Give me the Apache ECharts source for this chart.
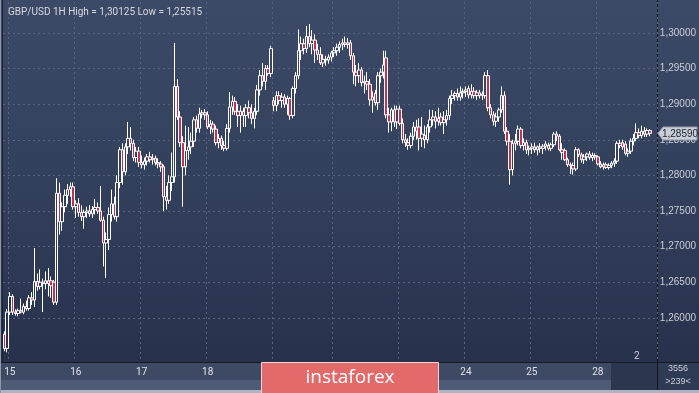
<!DOCTYPE html>
<html>
<head>
<meta charset="utf-8">
<script src="https://cdn.jsdelivr.net/npm/echarts@6/dist/echarts.min.js"></script>
<style>
  html, body { margin: 0; padding: 0; background: #28314c; }
  #wrap { position: relative; width: 699px; height: 393px; overflow: hidden; }
  .bg { position: absolute; }
  #chart { position: absolute; left: 0; top: 0; width: 699px; height: 393px; }
</style>
</head>
<body>
<div id="wrap">
  <div class="bg" style="left:0;top:0;width:699px;height:362px;background:linear-gradient(to bottom,#3d4a67 0%,#33405c 50%,#28314c 100%);"></div>
  <div class="bg" style="left:0;top:362px;width:699px;height:1px;background:#141925;"></div>
  <div class="bg" style="left:0;top:363px;width:699px;height:17px;background:#3e4a63;"></div>
  <div class="bg" style="left:0;top:380px;width:699px;height:10px;background:#4d5b76;"></div>
  <div class="bg" style="left:0;top:390px;width:699px;height:3px;background:#aab4c3;"></div>
  <div class="bg" style="left:611px;top:363px;width:46px;height:27px;background:#2c364e;"></div>
  <div class="bg" style="left:658px;top:363px;width:41px;height:27px;background:#2f3a54;"></div>
  <div class="bg" style="left:657px;top:0;width:1px;height:390px;background:#11161f;"></div>
  <div class="bg" style="left:0;top:0;width:1px;height:393px;background:#8e98aa;"></div>
  <div class="bg" style="left:2px;top:0;width:1px;height:362px;background:#1c2333;"></div>
  <div id="chart"></div>
</div>
<script>
// ---- data ----
const dayNames = ['12', '15', '16', '17', '18', '19', '22', '23', '24', '25', '28'];
const dayHours = [2, 24, 24, 24, 24, 22, 24, 24, 24, 24, 20];
const yTicks = [1.26, 1.265, 1.27, 1.275, 1.28, 1.285, 1.29, 1.295, 1.30];
const lastPrice = 1.28590;
const titleText = 'GBP/USD 1H High = 1,30125 Low = 1,25515';
// [open, close, low, high]
const candles = [
[1.2577,1.2557,1.2553,1.2581],[1.2557,1.2608,1.25515,1.2612],
[1.2608,1.2630,1.2604,1.2636],[1.2630,1.2608,1.2604,1.2633],[1.2608,1.2606,1.2603,1.2612],[1.2606,1.2610,1.2602,1.2613],
[1.2610,1.2608,1.2606,1.2627],[1.2608,1.2616,1.2605,1.2620],[1.2616,1.2613,1.2610,1.2624],[1.2613,1.2628,1.2610,1.2632],
[1.2628,1.2625,1.2618,1.2636],[1.2625,1.2651,1.2615,1.2698],[1.2651,1.2644,1.2638,1.2662],[1.2644,1.2650,1.2640,1.2668],
[1.2650,1.2648,1.2608,1.2655],[1.2648,1.2652,1.2640,1.2665],[1.2652,1.2648,1.2630,1.2670],[1.2652,1.2645,1.2628,1.2658],
[1.2650,1.2622,1.2618,1.2653],[1.2622,1.2775,1.2618,1.2796],[1.2775,1.2735,1.2717,1.2790],[1.2735,1.2756,1.2722,1.2762],
[1.2756,1.2772,1.2748,1.2780],[1.2772,1.2780,1.2760,1.2788],[1.2780,1.2784,1.2770,1.2790],[1.2784,1.2756,1.2752,1.2790],
[1.2756,1.2760,1.2740,1.2765],[1.2760,1.2748,1.2742,1.2768],[1.2748,1.2742,1.2736,1.2758],[1.2742,1.2748,1.2725,1.2752],
[1.2748,1.2750,1.2740,1.2756],[1.2750,1.2746,1.2742,1.2758],[1.2746,1.2752,1.2740,1.2757],[1.2752,1.2755,1.2745,1.2767],
[1.2755,1.2750,1.2746,1.2762],[1.2750,1.2737,1.2735,1.2785],[1.2737,1.2705,1.2672,1.2742],[1.2705,1.2710,1.2656,1.2720],
[1.2710,1.2745,1.2695,1.2755],[1.2745,1.2760,1.2735,1.2780],[1.2760,1.2742,1.2738,1.2770],[1.2742,1.2790,1.2735,1.2800],
[1.2790,1.2836,1.2782,1.2840],[1.2836,1.2805,1.2787,1.2845],[1.2805,1.2840,1.2800,1.2845],[1.2840,1.2852,1.2830,1.2875],
[1.2852,1.2845,1.2835,1.2868],[1.2845,1.2825,1.2820,1.2850],[1.2825,1.2834,1.2818,1.2840],[1.2834,1.2818,1.2812,1.2840],
[1.2818,1.2815,1.2810,1.2828],[1.2815,1.2820,1.2808,1.2825],[1.2820,1.2826,1.2814,1.2830],[1.2826,1.2822,1.2818,1.2833],
[1.2822,1.2824,1.2815,1.2830],[1.2824,1.2818,1.2814,1.2828],[1.2818,1.2816,1.2810,1.2824],[1.2816,1.2812,1.2805,1.2820],
[1.2812,1.2770,1.2750,1.2815],[1.2770,1.2765,1.2752,1.2785],[1.2765,1.2790,1.2760,1.2800],[1.2790,1.2798,1.2778,1.2832],
[1.2798,1.2925,1.2790,1.2986],[1.2925,1.2882,1.2878,1.2935],[1.2882,1.2846,1.2840,1.2890],[1.2846,1.2812,1.2756,1.2855],
[1.2812,1.2835,1.2800,1.2870],[1.2835,1.2840,1.2822,1.2868],[1.2840,1.2848,1.2830,1.2860],[1.2848,1.2878,1.2840,1.2882],
[1.2878,1.2866,1.2860,1.2884],[1.2866,1.2886,1.2860,1.2895],[1.2886,1.2888,1.2880,1.2892],[1.2888,1.2885,1.2878,1.2893],
[1.2885,1.2868,1.2865,1.2890],[1.2868,1.2872,1.2858,1.2878],[1.2872,1.2865,1.2860,1.2876],[1.2865,1.2846,1.2842,1.2870],
[1.2846,1.2852,1.2838,1.2858],[1.2852,1.2842,1.2836,1.2856],[1.2842,1.2838,1.2834,1.2848],[1.2838,1.2866,1.2835,1.2872],
[1.2866,1.2896,1.2860,1.2917],[1.2896,1.2904,1.2885,1.2912],[1.2904,1.2890,1.2885,1.2910],[1.2890,1.2884,1.2868,1.2900],
[1.2884,1.2890,1.2860,1.2898],[1.2890,1.2884,1.2868,1.2895],[1.2884,1.2895,1.2868,1.2900],[1.2895,1.2888,1.2880,1.2905],
[1.2888,1.2880,1.2872,1.2900],[1.2880,1.2890,1.2866,1.2895],[1.2890,1.2920,1.2885,1.2927],[1.2920,1.2940,1.2912,1.2948],
[1.2940,1.2932,1.2925,1.2958],[1.2932,1.2950,1.2920,1.2955],[1.2950,1.2943,1.2940,1.2955],[1.2943,1.2978,1.2938,1.2982],
[1.2905,1.2898,1.2890,1.2910],[1.2898,1.2912,1.2890,1.2918],[1.2912,1.2905,1.2900,1.2918],[1.2905,1.2910,1.2895,1.2916],
[1.2910,1.2900,1.2895,1.2914],[1.2900,1.2908,1.2885,1.2912],[1.2908,1.2884,1.2878,1.2910],[1.2884,1.2922,1.2880,1.2925],
[1.2922,1.2940,1.2915,1.2945],[1.2940,1.2975,1.2935,1.3005],[1.2975,1.2985,1.2962,1.2995],[1.2985,1.2978,1.2970,1.2992],
[1.2978,1.2995,1.2972,1.3010],[1.2995,1.2985,1.2980,1.30125],[1.2985,1.2990,1.2970,1.3004],[1.2990,1.2976,1.2958,1.2998],
[1.2976,1.2970,1.2962,1.2985],[1.2970,1.2958,1.2955,1.2980],[1.2958,1.2963,1.2952,1.2970],[1.2963,1.2962,1.2954,1.2968],
[1.2962,1.2966,1.2957,1.2970],[1.2966,1.2972,1.2960,1.2975],
[1.2972,1.2975,1.2966,1.2980],[1.2975,1.2980,1.2968,1.2985],[1.2980,1.2984,1.2972,1.2988],[1.2984,1.2986,1.2976,1.2992],
[1.2986,1.2984,1.2980,1.2995],[1.2984,1.2986,1.2978,1.2993],[1.2986,1.2968,1.2962,1.2990],[1.2968,1.2945,1.2928,1.2972],
[1.2945,1.2940,1.2925,1.2955],[1.2940,1.2948,1.2930,1.2958],[1.2948,1.2930,1.2925,1.2952],[1.2930,1.2932,1.2915,1.2940],
[1.2932,1.2928,1.2920,1.2945],[1.2928,1.2906,1.2898,1.2935],[1.2906,1.2910,1.2888,1.2918],[1.2915,1.2902,1.2898,1.2920],
[1.2902,1.2940,1.2892,1.2945],[1.2940,1.2945,1.2930,1.2950],[1.2945,1.2955,1.2936,1.2975],[1.2965,1.2885,1.2880,1.2975],
[1.2885,1.2875,1.2860,1.2895],[1.2875,1.2892,1.2862,1.2895],[1.2892,1.2875,1.2868,1.2898],[1.2875,1.2893,1.2865,1.2898],
[1.2893,1.2873,1.2870,1.2898],[1.2873,1.2850,1.2845,1.2880],[1.2850,1.2846,1.2840,1.2858],[1.2846,1.2842,1.2836,1.2852],
[1.2842,1.2855,1.2838,1.2860],[1.2855,1.2868,1.2850,1.2875],[1.2868,1.2862,1.2850,1.2878],[1.2868,1.2852,1.2835,1.2880],
[1.2852,1.2858,1.2840,1.2882],[1.2856,1.2850,1.2838,1.2870],[1.2850,1.2868,1.2845,1.2872],[1.2868,1.2878,1.2860,1.2892],
[1.2878,1.2882,1.2870,1.2892],[1.2882,1.2876,1.2866,1.2890],[1.2876,1.2880,1.2870,1.2895],[1.2882,1.2874,1.2870,1.2888],
[1.2874,1.2878,1.2858,1.2890],[1.2878,1.2884,1.2870,1.2892],[1.2884,1.2908,1.2878,1.2912],[1.2908,1.2912,1.2900,1.2920],
[1.2912,1.2915,1.2905,1.2918],[1.2915,1.2910,1.2905,1.2922],[1.2910,1.2916,1.2905,1.2925],[1.2916,1.2918,1.2908,1.2922],
[1.2918,1.2920,1.2910,1.2925],[1.2922,1.2913,1.2908,1.2926],[1.2913,1.2918,1.2908,1.2928],[1.2918,1.2912,1.2908,1.2924],
[1.2912,1.2916,1.2906,1.2920],[1.2916,1.2912,1.2908,1.2920],[1.2912,1.2914,1.2906,1.2918],[1.2912,1.2940,1.2908,1.2945],
[1.2940,1.2895,1.2890,1.2948],[1.2895,1.2885,1.2880,1.2900],[1.2885,1.2876,1.2870,1.2890],[1.2876,1.2882,1.2868,1.2888],
[1.2882,1.2892,1.2875,1.2895],[1.2892,1.2912,1.2888,1.2925],[1.2912,1.2862,1.2858,1.2918],[1.2862,1.2848,1.2842,1.2868],
[1.2848,1.2808,1.2787,1.2858],[1.2808,1.2845,1.2800,1.2850],[1.2845,1.2848,1.2835,1.2858],[1.2848,1.2865,1.2842,1.2870],
[1.2865,1.2842,1.2838,1.2868],[1.2842,1.2846,1.2835,1.2852],[1.2846,1.2836,1.2830,1.2850],[1.2836,1.2838,1.2828,1.2842],
[1.2838,1.2840,1.2830,1.2845],[1.2840,1.2836,1.2832,1.2846],[1.2836,1.2840,1.2828,1.2842],[1.2840,1.2838,1.2832,1.2845],
[1.2838,1.2841,1.2830,1.2844],[1.2841,1.2844,1.2835,1.2848],[1.2842,1.2838,1.2835,1.2846],[1.2838,1.2843,1.2834,1.2846],
[1.2843,1.2858,1.2840,1.2861],[1.2858,1.2855,1.2848,1.2862],[1.2855,1.2836,1.2834,1.2858],[1.2836,1.2832,1.2822,1.2845],
[1.2835,1.2822,1.2820,1.2838],[1.2822,1.2815,1.2812,1.2825],[1.2815,1.2814,1.2802,1.2818],[1.2814,1.2809,1.2801,1.2818],
[1.2809,1.2836,1.2806,1.2840],[1.2836,1.2829,1.2826,1.2838],[1.2829,1.2822,1.2818,1.2832],[1.2822,1.2826,1.2816,1.2830],
[1.2826,1.2830,1.2820,1.2832],[1.2830,1.2825,1.2822,1.2834],[1.2825,1.2828,1.2820,1.2832],[1.2828,1.2826,1.2822,1.2831],
[1.2826,1.2816,1.2814,1.2828],[1.2816,1.2812,1.2810,1.2820],[1.2812,1.2815,1.2808,1.2818],[1.2815,1.2811,1.2809,1.2818],
[1.2811,1.2814,1.2808,1.2817],[1.2814,1.2817,1.2810,1.2820],[1.2817,1.2820,1.2812,1.2824],[1.2820,1.2845,1.2816,1.2848],
[1.2845,1.2842,1.2838,1.2850],[1.2846,1.2840,1.2836,1.2850],[1.2844,1.2831,1.2828,1.2848],[1.2831,1.2834,1.2826,1.2838],
[1.2834,1.2848,1.2830,1.2852],[1.2848,1.2852,1.2842,1.2858],[1.2852,1.2860,1.2848,1.2873],[1.2860,1.2856,1.2852,1.2866],
[1.2856,1.2862,1.2852,1.2870],[1.2862,1.2858,1.2854,1.2868],[1.2858,1.2863,1.2854,1.2866],[1.2863,1.2859,1.2855,1.2865]
];

// ---- categories (one per hourly bar, plus two empty slots on the right) ----
const categories = [];
const dayStart = {};
dayNames.forEach((d, di) => {
  dayStart[categories.length] = d;
  for (let h = 0; h < dayHours[di]; h++) categories.push(d + '|' + h);
});
categories.push('', '');
const isDayStart = (idx) => idx in dayStart && dayStart[idx] !== '12';

const chart = echarts.init(document.getElementById('chart'), null, { renderer: 'canvas' });
const fmt = (v) => v.toFixed(5).replace('.', ',');

const staticGraphics = [
  { type: 'text', left: 634, top: 351, z: 50, style: { text: '2', fill: '#d0d4dc', fontSize: 10, fontFamily: 'Roboto' } },
  { type: 'text', x: 678, y: 369, z: 50, style: { text: '3556', fill: '#c9ced8', fontSize: 9, fontFamily: 'Liberation Sans', align: 'center', verticalAlign: 'middle' } },
  { type: 'text', x: 678, y: 382, z: 50, style: { text: '>239<', fill: '#c9ced8', fontSize: 9, fontFamily: 'Liberation Sans', align: 'center', verticalAlign: 'middle' } },
  { type: 'rect', z: 100, shape: { x: 261.5, y: 362.5, width: 177, height: 32 }, style: { fill: '#e36a6b', stroke: '#f3d3d3', lineWidth: 1 } },
  { type: 'text', z: 101, x: 350, y: 378, style: { text: 'instaforex', fill: '#ffffff', fontSize: 19, fontFamily: 'Open Sans', align: 'center', verticalAlign: 'middle' } }
];

chart.setOption({
  animation: false,
  backgroundColor: 'transparent',
  title: {
    text: titleText, left: 3, top: 2,
    textStyle: { color: '#d5d9e1', fontSize: 10, fontWeight: 'normal', fontFamily: 'Roboto' }
  },
  grid: { left: 3, right: 42, top: 2, bottom: 31 },
  xAxis: {
    type: 'category',
    data: categories,
    boundaryGap: true,
    axisLine: { show: false },
    axisTick: { show: false },
    axisLabel: {
      interval: (idx) => isDayStart(idx),
      formatter: (v) => v.split('|')[0],
      color: '#dfe3ea', fontSize: 10, fontFamily: 'Roboto', margin: 5
    },
    splitLine: {
      show: true,
      interval: (idx) => isDayStart(idx),
      lineStyle: { color: '#56627e', type: [2, 3], width: 1 }
    }
  },
  yAxis: {
    type: 'value',
    position: 'right',
    min: 1.25379, max: 1.30435,
    scale: true,
    axisLine: { show: false },
    axisTick: { show: false, customValues: yTicks },
    axisLabel: {
      customValues: yTicks,
      formatter: fmt,
      color: '#c9ced8', fontSize: 10, fontFamily: 'Liberation Sans', margin: 3
    },
    splitLine: { show: true, lineStyle: { color: '#56627e', type: [2, 3], width: 1 } }
  },
  series: [{
    type: 'candlestick',
    data: candles,
    barWidth: 3,
    itemStyle: {
      color: 'rgba(0,0,0,0)', color0: '#c7304d',
      borderColor: '#ffffff', borderColor0: '#ffffff', borderWidth: 1
    }
  }],
  graphic: staticGraphics
});

// last-price tag on the right axis, placed through the axis scale
const tagY = Math.round(chart.convertToPixel({ yAxisIndex: 0 }, lastPrice)) + 0.5;
chart.setOption({
  graphic: staticGraphics.concat([
    { type: 'polygon', z: 60, shape: { points: [[658, tagY], [663, tagY - 6.5], [697, tagY - 6.5], [697, tagY + 6.5], [663, tagY + 6.5]] },
      style: { fill: '#c9cdd5', stroke: '#9aa2b0', lineWidth: 1 } },
    { type: 'text', z: 61, x: 680, y: tagY + 0.5, style: { text: fmt(lastPrice), fill: '#1b2232', fontSize: 10, fontFamily: 'Liberation Sans', align: 'center', verticalAlign: 'middle' } }
  ])
});
</script>
</body>
</html>
